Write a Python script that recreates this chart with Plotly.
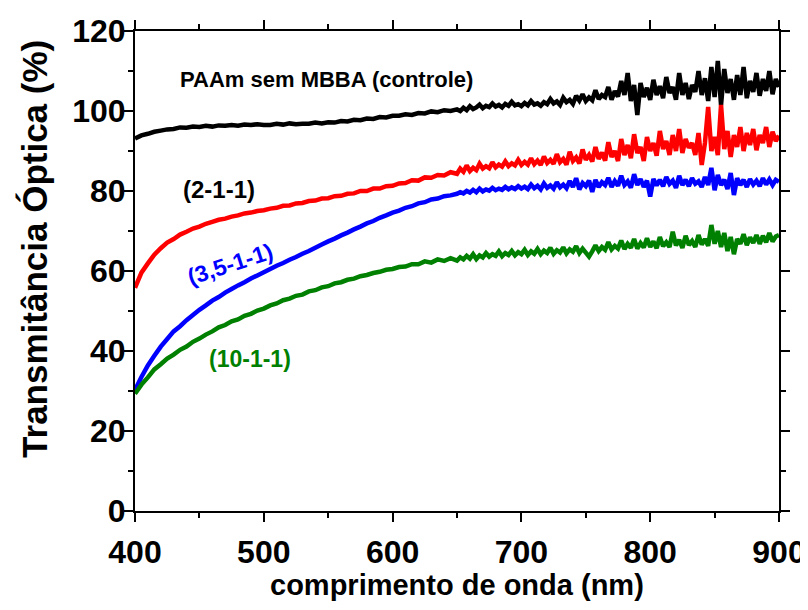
import plotly.graph_objects as go

# wavelength grid (nm): 5 nm step up to 645 nm, 2.5 nm step from 650 nm
wavelength = [400 + 5 * i for i in range(50)] + [650 + 2.5 * i for i in range(101)]

controle = [
    # 400-645
    93.1, 93.9, 94.3, 94.8, 95.1, 95.4, 95.5, 95.9, 95.8, 96.1,
    96.0, 96.3, 96.1, 96.4, 96.3, 96.5, 96.3, 96.6, 96.5, 96.7,
    96.5, 96.5, 96.8, 96.6, 96.9, 96.7, 96.8, 96.8, 97.1, 96.9,
    97.2, 97.1, 97.5, 97.4, 97.8, 97.7, 98.1, 98.0, 98.5, 98.4,
    98.8, 98.8, 99.2, 99.0, 99.5, 99.4, 99.9, 99.7, 100.2, 100.0,
    # 650-900
    100.4, 100.0, 100.8, 100.2, 101.2, 100.5, 100.9, 101.6, 100.7, 101.3,
    101.0, 101.9, 101.1, 101.5, 100.9, 101.8, 101.3, 102.3, 101.4, 101.7,
    101.2, 102.0, 101.4, 102.5, 101.6, 101.9, 101.3, 102.2, 101.7, 103.0,
    101.9, 102.4, 101.5, 103.3, 102.2, 102.8, 101.8, 103.8, 102.6, 104.2,
    102.5, 103.4, 102.7, 105.2, 103.0, 104.0, 103.5, 106.0, 102.8, 105.0,
    103.6, 107.5, 104.0, 109.5, 102.5, 106.5, 99.0, 107.0, 103.5, 105.8,
    102.8, 107.8, 104.0, 106.2, 103.2, 108.5, 104.5, 106.0, 102.8, 109.5,
    104.0, 107.0, 103.0, 106.5, 104.8, 110.0, 104.0, 108.2, 102.5, 111.0,
    103.5, 112.5, 101.5, 110.5, 104.5, 108.0, 102.8, 109.0, 104.0, 111.0,
    103.2, 107.5, 104.8, 109.5, 103.8, 108.0, 105.0, 110.0, 104.2, 108.0,
    106.0]

s_2_1_1 = [
    55.8, 59.6, 61.9, 64.1, 65.7, 67.1, 68.0, 69.1, 69.8, 70.6,
    71.1, 71.8, 72.3, 72.8, 73.1, 73.6, 73.9, 74.4, 74.6, 75.0,
    75.2, 75.6, 75.8, 76.3, 76.4, 76.9, 77.0, 77.5, 77.6, 78.1,
    78.2, 78.7, 78.8, 79.3, 79.4, 80.0, 80.0, 80.6, 80.6, 81.2,
    81.3, 81.9, 82.0, 82.7, 82.6, 83.4, 83.3, 84.0, 83.9, 84.7,
    84.3, 85.6, 84.8, 86.4, 85.0, 85.8, 85.2, 86.8, 85.6, 86.2,
    85.7, 87.2, 85.9, 86.6, 86.1, 87.4, 86.2, 86.9, 86.4, 87.8,
    86.5, 87.3, 86.6, 88.2, 86.7, 87.6, 86.5, 88.6, 87.0, 87.8,
    86.8, 89.2, 87.2, 88.0, 86.6, 89.8, 87.5, 88.4, 86.9, 90.4,
    87.8, 89.0, 87.4, 91.0, 88.0, 89.6, 87.6, 92.2, 88.5, 90.0,
    87.5, 93.0, 89.0, 91.5, 88.2, 94.2, 89.5, 91.0, 87.5, 93.5,
    90.0, 92.0, 88.8, 95.0, 90.5, 92.5, 89.0, 94.0, 90.0, 95.5,
    89.5, 93.0, 90.8, 92.0, 89.0, 94.5, 86.5, 92.0, 101.0, 90.0,
    93.5, 89.0, 101.5, 90.5, 95.0, 88.5, 94.0, 91.0, 96.0, 90.0,
    94.5, 91.5, 95.5, 90.2, 94.0, 92.0, 96.0, 91.0, 94.8, 92.5,
    93.8]

s_3_5_1_1 = [
    30.2, 33.5, 36.4, 38.8, 41.1, 43.0, 44.9, 46.2, 47.7, 49.0,
    50.3, 51.4, 52.6, 53.5, 54.6, 55.5, 56.4, 57.2, 58.1, 58.9,
    59.7, 60.5, 61.3, 62.0, 62.8, 63.5, 64.3, 65.0, 65.8, 66.6,
    67.4, 68.1, 68.9, 69.6, 70.4, 71.1, 71.9, 72.5, 73.3, 73.9,
    74.6, 75.1, 75.8, 76.2, 76.9, 77.2, 77.9, 78.1, 78.7, 78.9,
    79.3, 79.7, 79.4, 80.0, 79.6, 80.3, 79.7, 80.6, 79.9, 80.4,
    80.1, 80.8, 80.2, 80.6, 80.3, 81.0, 80.4, 80.9, 80.5, 81.2,
    80.6, 81.1, 80.5, 81.6, 80.7, 81.3, 80.4, 81.9, 80.8, 81.4,
    80.6, 82.2, 80.9, 81.6, 80.7, 82.5, 81.0, 83.2, 80.4, 82.0,
    81.2, 82.6, 79.8, 82.8, 81.0, 82.2, 81.5, 83.3, 81.0, 82.5,
    81.3, 83.8, 81.5, 82.4, 80.8, 84.2, 81.5, 83.0, 81.0, 82.6,
    78.6, 83.0, 81.4, 82.8, 81.2, 83.5, 81.8, 82.6, 80.8, 83.8,
    81.5, 82.8, 81.2, 83.2, 81.8, 82.4, 81.0, 83.5, 81.5, 85.8,
    80.2, 84.0, 81.5, 82.8, 80.5, 84.5, 79.0, 83.2, 81.5, 82.8,
    81.0, 83.0, 81.6, 82.6, 81.2, 83.2, 81.6, 82.9, 81.5, 82.8,
    82.3]

s_10_1_1 = [
    29.3, 31.6, 33.4, 35.4, 36.7, 38.1, 39.1, 40.3, 41.1, 42.3,
    43.1, 44.1, 44.9, 45.9, 46.5, 47.4, 47.9, 48.8, 49.3, 50.1,
    50.6, 51.4, 51.9, 52.7, 53.1, 53.8, 54.1, 54.9, 55.2, 55.9,
    56.2, 56.9, 57.2, 57.8, 58.1, 58.7, 59.0, 59.5, 59.8, 60.3,
    60.5, 61.0, 61.1, 61.7, 61.7, 62.4, 62.1, 62.9, 62.5, 63.2,
    62.6, 63.4, 62.9, 63.8, 63.1, 64.2, 63.0, 63.9, 63.4, 64.5,
    63.6, 64.2, 63.8, 64.9, 63.7, 64.5, 64.0, 65.0, 63.9, 64.7,
    64.2, 65.3, 64.0, 64.9, 64.3, 65.5, 64.2, 65.1, 64.5, 65.8,
    64.3, 65.2, 64.6, 65.9, 64.4, 65.4, 64.8, 66.2, 64.5, 65.6,
    64.6, 63.6, 64.9, 66.4, 65.0, 66.0, 65.3, 67.2, 65.4, 66.3,
    65.6, 67.6, 65.5, 66.8, 65.8, 68.0, 65.6, 67.0, 65.9, 68.2,
    66.0, 67.4, 65.7, 68.5, 66.2, 67.2, 66.0, 69.8, 66.4, 67.8,
    65.8, 68.8, 66.5, 67.5, 66.0, 69.0, 66.6, 68.0, 66.3, 71.5,
    66.8, 70.0, 66.0, 69.5, 65.0, 68.5, 64.2, 68.0, 66.8, 69.2,
    66.5, 68.4, 67.0, 69.0, 66.8, 68.8, 67.2, 69.5, 67.4, 68.6,
    69.0]

x_ticks = [400, 500, 600, 700, 800, 900]
y_ticks = [0, 20, 40, 60, 80, 100, 120]

series = [
    ("PAAm sem MBBA (controle)", controle, "#000000"),
    ("(2-1-1)", s_2_1_1, "#ff0000"),
    ("(3,5-1-1)", s_3_5_1_1, "#0000ff"),
    ("(10-1-1)", s_10_1_1, "#008000"),
]

FONT = "Liberation Sans, Arial, sans-serif"

fig = go.Figure()
for name, ys, col in series:
    fig.add_trace(go.Scatter(x=wavelength, y=ys, mode="lines", name=name,
                             line=dict(color=col, width=4.5, simplify=False),
                             showlegend=False))

# curve labels
labels = [
    ("PAAm sem MBBA (controle)", 433, 107.8, "#000000", 22),
    ("(2-1-1)", 436, 80.3, "#000000", 24),
    ("(10-1-1)", 456, 38.0, "#008000", 23),
]
for t, lx, ly, col, sz in labels:
    fig.add_annotation(x=lx, y=ly, text=t, showarrow=False, xanchor="left",
                       yanchor="middle",
                       font=dict(family=FONT, size=sz, color=col, weight="bold"))
fig.add_annotation(x=474, y=61.8, text="(3,5-1-1)", showarrow=False,
                   xanchor="center", yanchor="middle", textangle=-18,
                   font=dict(family=FONT, size=23, color="#0000ff", weight="bold"))

# axis titles
fig.add_annotation(xref="paper", yref="paper", x=0.5, y=-0.154,
                   text="comprimento de onda (nm)", showarrow=False,
                   xanchor="center", yanchor="middle",
                   font=dict(family=FONT, size=29, color="#000000", weight="bold"))
fig.add_annotation(xref="paper", yref="paper", x=-0.156, y=0.545,
                   text="Transmitância Óptica (%)", showarrow=False, textangle=-90,
                   xanchor="center", yanchor="middle",
                   font=dict(family=FONT, size=35, color="#000000", weight="bold"))

axis_common = dict(showline=True, linecolor="black", linewidth=2, mirror="ticks",
                   ticks="outside", ticklen=9, tickwidth=2, tickcolor="black",
                   showgrid=False, zeroline=False, automargin=False,
                   ticklabeloverflow="allow",
                   tickfont=dict(family=FONT, size=32, color="black", weight="bold"))

fig.update_xaxes(range=[400, 900], tickvals=x_ticks, ticklabelstandoff=3,
                 minor=dict(ticks="outside", ticklen=5, tickwidth=2, tickcolor="black", dtick=50),
                 **axis_common)
fig.update_yaxes(range=[0, 120], tickvals=y_ticks, ticklabelstandoff=-8,
                 minor=dict(ticks="outside", ticklen=5, tickwidth=2, tickcolor="black", dtick=10),
                 **axis_common)

# page body adds an 8 px offset, so the figure is 8 px smaller than the window
fig.update_layout(width=800, height=602, margin=dict(l=127, r=29, t=23, b=99),
                  plot_bgcolor="white", paper_bgcolor="white")

fig.write_html("out.html")
